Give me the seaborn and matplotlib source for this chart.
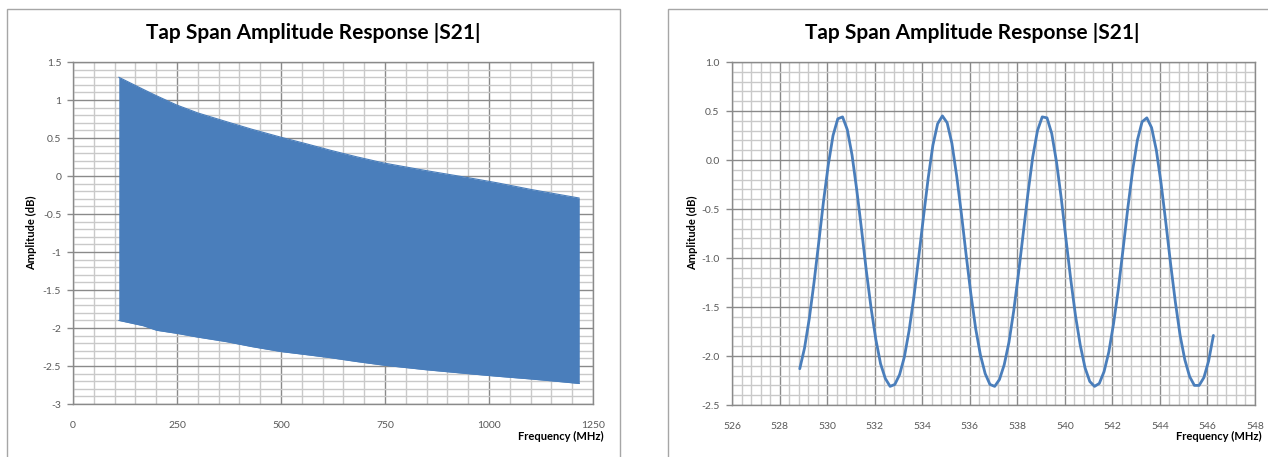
import matplotlib
matplotlib.use("Agg")
import matplotlib.pyplot as plt
import matplotlib.patches as mpatches
from matplotlib.ticker import MultipleLocator, FixedLocator, FixedFormatter
import seaborn as sns
import pandas as pd

# ---- Wide-band sweep: envelope of the tap-span ripple (MHz, dB) ----
wide_freq = [110, 169, 201, 249, 300, 369, 430, 500, 560, 618, 680, 748, 850, 948,
             1020, 1099, 1160, 1217]
wide_upper = [1.30, 1.14, 1.055, 0.935, 0.83, 0.715, 0.615, 0.51, 0.425, 0.34, 0.255,
              0.17, 0.07, -0.02, -0.09, -0.175, -0.235, -0.29]
wide_lower = [-1.90, -1.97, -2.03, -2.07, -2.12, -2.18, -2.245, -2.31, -2.35, -2.39,
              -2.44, -2.49, -2.55, -2.60, -2.635, -2.67, -2.70, -2.73]

# ---- Narrow-band sweep around 537 MHz (MHz, dB) ----
narrow_freq = [
    528.85, 529.05, 529.25, 529.45, 529.65, 529.85, 530.05, 530.25, 530.45, 530.65,
    530.85, 531.05, 531.25, 531.45, 531.65, 531.85, 532.05, 532.25, 532.45, 532.65,
    532.85, 533.05, 533.25, 533.45, 533.65, 533.85, 534.05, 534.25, 534.45, 534.65,
    534.85, 535.05, 535.25, 535.45, 535.65, 535.85, 536.05, 536.25, 536.45, 536.65,
    536.85, 537.05, 537.25, 537.45, 537.65, 537.85, 538.05, 538.25, 538.45, 538.65,
    538.85, 539.05, 539.25, 539.45, 539.65, 539.85, 540.05, 540.25, 540.45, 540.65,
    540.85, 541.05, 541.25, 541.45, 541.65, 541.85, 542.05, 542.25, 542.45, 542.65,
    542.85, 543.05, 543.25, 543.45, 543.65, 543.85, 544.05, 544.25, 544.45, 544.65,
    544.85, 545.05, 545.25, 545.45, 545.65, 545.85, 546.05, 546.25,
]
narrow_amp = [
    -2.13, -1.92, -1.62, -1.25, -0.84, -0.42, -0.05, 0.25, 0.42, 0.44,
    0.31, 0.05, -0.31, -0.71, -1.13, -1.51, -1.83, -2.08, -2.23, -2.31,
    -2.29, -2.19, -2.01, -1.74, -1.40, -1.00, -0.59, -0.19, 0.15, 0.37,
    0.45, 0.38, 0.17, -0.16, -0.55, -0.97, -1.37, -1.72, -1.99, -2.18,
    -2.29, -2.31, -2.24, -2.09, -1.86, -1.54, -1.16, -0.75, -0.34, 0.03,
    0.30, 0.44, 0.43, 0.27, -0.02, -0.39, -0.81, -1.22, -1.59, -1.89,
    -2.12, -2.26, -2.31, -2.28, -2.16, -1.96, -1.67, -1.32, -0.91, -0.49,
    -0.11, 0.20, 0.39, 0.43, 0.33, 0.10, -0.24, -0.64, -1.06, -1.45,
    -1.79, -2.04, -2.21, -2.30, -2.30, -2.22, -2.05, -1.79,
]

left_yticks = [1.5, 1, 0.5, 0, -0.5, -1, -1.5, -2, -2.5, -3]
left_yticklabels = ["1.5", "1", "0.5", "0", "-0.5", "-1", "-1.5", "-2", "-2.5", "-3"]
left_xticks = [0, 250, 500, 750, 1000, 1250]
right_yticks = [1.0, 0.5, 0.0, -0.5, -1.0, -1.5, -2.0, -2.5]
right_yticklabels = ["1.0", "0.5", "0.0", "-0.5", "-1.0", "-1.5", "-2.0", "-2.5"]
right_xticks = list(range(526, 549, 2))

title_text = "Tap Span Amplitude Response |S21|"
xlabel_text = "Frequency (MHz)"
ylabel_text = "Amplitude (dB)"

sns.set_style("white")
plt.rcParams["font.family"] = ["Lato", "DejaVu Sans"]

BLUE = "#4a7ebb"
MAJOR = "#8a8a8a"
MINOR = "#c9c9c9"
TICKTXT = "#595959"
W, H = 1268, 457

fig = plt.figure(figsize=(W / 100, H / 100), dpi=100)


def box(x0, y0, x1, y1):
    return [x0 / W, 1 - y1 / H, (x1 - x0) / W, (y1 - y0) / H]


# chart-area frames
for (x0, x1) in [(7, 620), (668, 1300)]:
    fig.patches.append(mpatches.Rectangle((x0 / W, -0.05), (x1 - x0) / W, 1.05 - 9 / H,
                                          transform=fig.transFigure, fill=False,
                                          edgecolor="#a6a6a6", linewidth=1.0, zorder=0))

axL = fig.add_axes(box(73, 62, 593, 404))
axR = fig.add_axes(box(732, 62, 1255, 405))


def style_axes(ax, xmaj, xmin, ymaj, ymin, ypad):
    ax.xaxis.set_major_locator(MultipleLocator(xmaj))
    ax.xaxis.set_minor_locator(MultipleLocator(xmin))
    ax.yaxis.set_major_locator(MultipleLocator(ymaj))
    ax.yaxis.set_minor_locator(MultipleLocator(ymin))
    ax.grid(which="minor", color=MINOR, linewidth=1.0, zorder=0)
    ax.grid(which="major", color=MAJOR, linewidth=1.0, zorder=0)
    ax.set_axisbelow(True)
    for s in ax.spines.values():
        s.set_color(MAJOR)
        s.set_linewidth(1.0)
    ax.tick_params(axis="y", which="major", left=True, length=4, width=1.0,
                   color=MAJOR, labelsize=7.5, labelcolor=TICKTXT, pad=ypad)
    ax.tick_params(axis="x", which="major", bottom=False, labelsize=7.5,
                   labelcolor=TICKTXT, pad=9)
    ax.tick_params(which="minor", left=False, bottom=False)


# wide-band panel
wide = pd.DataFrame({"f": wide_freq, "hi": wide_upper, "lo": wide_lower})
sns.lineplot(data=wide, x="f", y="hi", ax=axL, color=BLUE, linewidth=0.8, zorder=3)
sns.lineplot(data=wide, x="f", y="lo", ax=axL, color=BLUE, linewidth=0.8, zorder=3)
axL.fill_between(wide["f"], wide["lo"], wide["hi"], color=BLUE, linewidth=0, zorder=2)
axL.set_xlim(0, 1250)
axL.set_ylim(-3, 1.5)
style_axes(axL, 250, 50, 0.5, 0.1, 4.5)
axL.yaxis.set_major_locator(FixedLocator(left_yticks))
axL.yaxis.set_major_formatter(FixedFormatter(left_yticklabels))
axL.set_xticks(left_xticks)
axL.set_xticklabels([str(v) for v in left_xticks])

# narrow-band panel
narrow = pd.DataFrame({"f": narrow_freq, "amp": narrow_amp})
sns.lineplot(data=narrow, x="f", y="amp", ax=axR, color=BLUE, linewidth=2.0, zorder=3)
axR.set_xlim(526, 548)
axR.set_ylim(-2.5, 1.0)
style_axes(axR, 2, 0.4, 0.5, 0.1, 5)
axR.yaxis.set_major_locator(FixedLocator(right_yticks))
axR.yaxis.set_major_formatter(FixedFormatter(right_yticklabels))
axR.set_xticks(right_xticks)
axR.set_xticklabels([str(v) for v in right_xticks])

for ax, tx, xr, yl in [(axL, 313, 604, 32), (axR, 972, 1262, 693)]:
    ax.set_xlabel("")
    ax.set_ylabel("")
    fig.text(tx / W, 1 - 33 / H, title_text, ha="center", va="center",
             fontsize=15, fontweight="bold", color="black")
    fig.text(xr / W, 1 - 436 / H, xlabel_text, ha="right", va="center",
             fontsize=8, fontweight="bold", color="black")
    fig.text(yl / W, 1 - 233 / H, ylabel_text, ha="center", va="center",
             rotation=90, fontsize=8, fontweight="bold", color="black")

fig.savefig("out.png", dpi=100, facecolor="white")
